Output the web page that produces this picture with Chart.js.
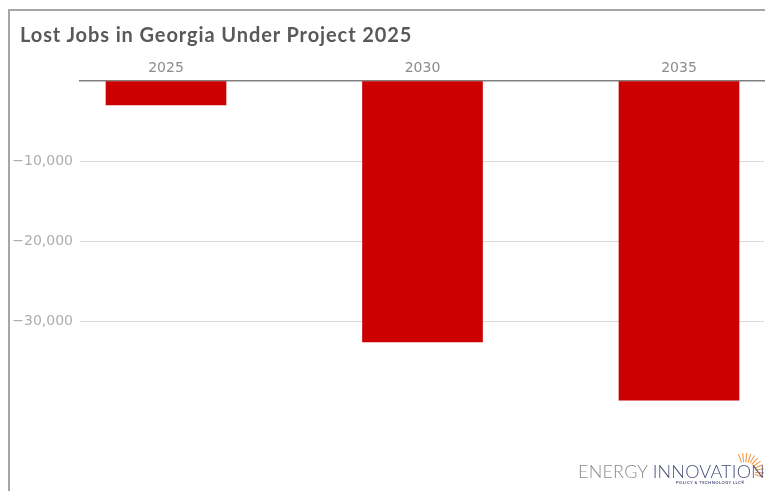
<!DOCTYPE html>
<html>
<head>
<meta charset="utf-8">
<script src="https://cdn.jsdelivr.net/npm/chart.js@4"></script>
<style>
  html, body { margin: 0; padding: 0; background: #fff; }
  #wrap { position: relative; width: 765px; height: 491px; overflow: hidden; }
  #frame { position: absolute; left: 8px; top: 9px; right: -10px; bottom: -10px;
           border-top: 2px solid #a6a6a6; border-left: 2px solid #a6a6a6; }
  #title { position: absolute; left: 20px; top: 22px; margin: 0; letter-spacing: 0.9px;
           font: bold 20px "Lato", sans-serif; color: #595959; }
  #chartBox { position: absolute; left: 0; top: 0; width: 765px; height: 491px; }
  #logo { position: absolute; left: 578px; top: 462px; width: 200px; font-family: "Lato", sans-serif; }
  #logo .big { font-size: 18px; font-weight: 300; white-space: nowrap; line-height: 18px; letter-spacing: 0.2px; }
  #logo .small { font-size: 4px; font-weight: bold; color: #4a4f7a; margin-left: 98px; letter-spacing: 0.5px; }
</style>
</head>
<body>
<div id="wrap">
  <div id="frame"></div>
  <div id="chartBox"><canvas id="myChart" width="765" height="491"></canvas></div>
  <h1 id="title">Lost Jobs in Georgia Under Project 2025</h1>
  <svg style="position:absolute;left:725px;top:445px" width="40" height="35" id="sun"></svg>
  <div id="logo">
    <div class="big"><span style="color:#8c8c8c">ENERGY </span><span style="color:#4a4f7a">INNOVATION</span></div>
    <div class="small">POLICY &amp; TECHNOLOGY LLC®</div>
  </div>
</div>
<script>
// data
var years = ["2025", "2030", "2035"];
var lostJobs = [-3000, -32600, -39900];
var yTickValues = [0, -10000, -20000, -30000];

// little orange sunburst behind the last letter of the logo
var sun = document.getElementById("sun");
for (var a = -110; a <= 15; a += 12.5) {
  var r = (a * Math.PI) / 180;
  var line = document.createElementNS("http://www.w3.org/2000/svg", "line");
  line.setAttribute("x1", 20 + 10 * Math.cos(r));
  line.setAttribute("y1", 27 + 10 * Math.sin(r));
  line.setAttribute("x2", 20 + 19 * Math.cos(r));
  line.setAttribute("y2", 27 + 19 * Math.sin(r));
  line.setAttribute("stroke", "#f39a4b");
  line.setAttribute("stroke-width", "1.1");
  sun.appendChild(line);
}

// bar centres sit 256.5px apart, the axis runs from x=80 to x=764
var xMin = (80 - 166) / 256.5;
var xMax = (764 - 166) / 256.5;

var tickFont = { family: "DejaVu Sans", size: 14 };

var chart = new Chart("myChart", {
  type: "bar",
  data: {
    datasets: [
      {
        data: lostJobs.map(function (v, i) {
          return { x: i, y: v };
        }),
        backgroundColor: "#cc0000",
        borderWidth: 0,
        barThickness: 120,
      },
    ],
  },
  options: {
    responsive: false,
    animation: false,
    layout: { padding: { top: 50, right: 1, bottom: 10, left: 0 } },
    plugins: {
      legend: { display: false },
      tooltip: { enabled: false },
    },
    scales: {
      x: {
        type: "linear",
        position: "top",
        offset: false,
        min: xMin,
        max: xMax,
        afterBuildTicks: function (scale) {
          scale.ticks = years.map(function (_, i) {
            return { value: i };
          });
        },
        afterFit: function (scale) {
          scale.height = 31;
          scale.paddingLeft = 0;
          scale.paddingRight = 0;
        },
        grid: { display: false, drawTicks: false },
        border: { display: true, color: "#7f7f7f", width: 1.5 },
        ticks: {
          padding: 4,
          color: "#8c8c8c",
          font: tickFont,
          maxRotation: 0,
          callback: function (v) {
            return years[v];
          },
        },
      },
      y: {
        min: -50000,
        max: 0,
        afterBuildTicks: function (scale) {
          scale.ticks = yTickValues.map(function (v) {
            return { value: v };
          });
        },
        afterFit: function (scale) {
          scale.width = 80;
          scale.paddingTop = 0;
          scale.paddingBottom = 0;
        },
        border: { display: false },
        grid: {
          drawTicks: false,
          color: function (ctx) {
            return ctx.tick && ctx.tick.value === 0 ? "rgba(0,0,0,0)" : "#d9d9d9";
          },
        },
        ticks: {
          padding: 7,
          color: "#adadad",
          font: tickFont,
          callback: function (v) {
            if (v === 0) return "";
            return "\u2212" + Math.abs(v).toLocaleString("en-US");
          },
        },
      },
    },
  },
});
</script>
</body>
</html>
